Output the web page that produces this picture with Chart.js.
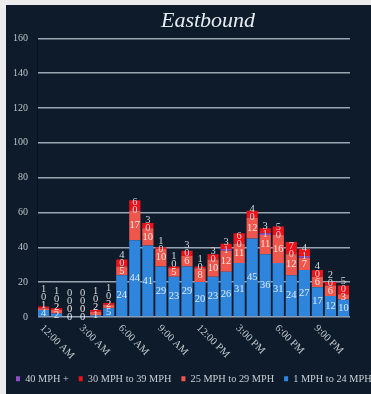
<!DOCTYPE html>
<html>
<head>
<meta charset="utf-8">
<script src="https://cdn.jsdelivr.net/npm/chart.js@4"></script>
<style>
  body { margin: 0; background: #ececec; overflow: hidden; }
  #panel { position: absolute; left: 6px; top: 5px; width: 404px; height: 389px; background: #0d1b2a; }
</style>
</head>
<body>
<div id="panel"><canvas id="chart" width="404" height="389"></canvas></div>
<script>
// hourly counts, eastbound
const hours = ['12:00 AM', '1:00 AM', '2:00 AM', '3:00 AM', '4:00 AM', '5:00 AM',
  '6:00 AM', '7:00 AM', '8:00 AM', '9:00 AM', '10:00 AM', '11:00 AM',
  '12:00 PM', '1:00 PM', '2:00 PM', '3:00 PM', '4:00 PM', '5:00 PM',
  '6:00 PM', '7:00 PM', '8:00 PM', '9:00 PM', '10:00 PM', '11:00 PM'];
const mph1to24  = [4, 2, 0, 0, 1, 5, 24, 44, 41, 29, 23, 29, 20, 23, 26, 31, 45, 36, 31, 24, 27, 17, 12, 10];
const mph25to29 = [1, 2, 0, 0, 2, 2, 5, 17, 10, 10, 5, 6, 8, 10, 12, 11, 12, 11, 16, 12, 7, 6, 6, 3];
const mph40plus = [0, 0, 0, 0, 0, 0, 0, 0, 0, 0, 0, 0, 0, 0, 1, 0, 0, 1, 0, 0, 1, 0, 0, 0];
const mph30to39 = [1, 1, 0, 0, 1, 1, 4, 6, 3, 1, 1, 3, 1, 3, 3, 6, 4, 3, 5, 7, 4, 4, 2, 5];
const yTicks = { min: 0, max: 160, step: 20 };
const tickEvery = 3;

const FONT = '"Liberation Serif", "DejaVu Serif", serif';

// value labels in each segment, nudged up so they don't sit on top of each other
const segLabels = {
  id: 'segLabels',
  afterDatasetsDraw(chart) {
    const ctx = chart.ctx;
    ctx.save();
    ctx.font = '10.5px ' + FONT;
    ctx.textAlign = 'center';
    ctx.textBaseline = 'middle';
    for (let i = 0; i < hours.length; i++) {
      let prev = Infinity;
      chart.data.datasets.forEach((ds, d) => {
        const bar = chart.getDatasetMeta(d).data[i];
        let y = Math.min((bar.y + bar.base) / 2, prev - 8);
        prev = y;
        ctx.fillStyle = ds.labelColor;
        ctx.fillText(String(ds.data[i]), bar.x, y);
      });
    }
    ctx.restore();
  }
};

// slanted hour labels (going down to the right)
const slantTicks = {
  id: 'slantTicks',
  afterDraw(chart) {
    const xs = chart.scales.x;
    const ctx = chart.ctx;
    ctx.save();
    ctx.font = '10.5px ' + FONT;
    ctx.fillStyle = '#c3c9cf';
    ctx.textAlign = 'left';
    ctx.textBaseline = 'top';
    hours.forEach((h, i) => {
      if (i % tickEvery) return;
      ctx.save();
      ctx.translate(xs.getPixelForValue(i) + 2, chart.chartArea.bottom + 6);
      ctx.rotate(Math.PI / 4);
      ctx.fillText(h, 0, 0);
      ctx.restore();
    });
    ctx.restore();
  }
};

const legendRank = [3, 2, 0, 1];

new Chart(document.getElementById('chart'), {
  type: 'bar',
  data: {
    labels: hours,
    datasets: [
      { label: '1 MPH to 24 MPH', data: mph1to24, backgroundColor: '#2f84dc', labelColor: '#dfe9f6' },
      { label: '25 MPH to 29 MPH', data: mph25to29, backgroundColor: '#f0564c', labelColor: '#fbe7e5' },
      { label: '40 MPH +', data: mph40plus, backgroundColor: '#8e4ec6', labelColor: '#d4d8dc' },
      { label: '30 MPH to 39 MPH', data: mph30to39, backgroundColor: '#ee1118', labelColor: '#d4d8dc' }
    ]
  },
  options: {
    responsive: false,
    devicePixelRatio: 1,
    animation: false,
    datasets: { bar: { categoryPercentage: 1, barPercentage: 0.86 } },
    plugins: {
      title: {
        display: true,
        text: 'Eastbound',
        color: '#e6ebf0',
        font: { family: FONT, size: 22, style: 'italic', weight: 'normal' },
        padding: { top: 3, bottom: 4 }
      },
      legend: {
        position: 'bottom',
        align: 'start',
        labels: {
          color: '#c8ced4',
          font: { family: FONT, size: 10.3 },
          boxWidth: 4,
          boxHeight: 5,
          padding: 10,
          sort: (a, b) => legendRank[a.datasetIndex] - legendRank[b.datasetIndex]
        }
      },
      tooltip: { enabled: false }
    },
    scales: {
      x: {
        stacked: true,
        grid: { display: false },
        border: { display: false },
        ticks: { display: false },
        afterFit(s) { s.height = 46.8; }
      },
      y: {
        stacked: true,
        min: yTicks.min,
        max: yTicks.max,
        ticks: { stepSize: yTicks.step, color: '#bcc3ca', padding: 9, font: { family: FONT, size: 10 } },
        grid: { color: 'rgba(190,200,212,0.8)', lineWidth: 1.5, drawTicks: false },
        border: { display: true, color: '#08121d' },
        afterFit(s) { s.width = 31; }
      },
      yRight: {
        type: 'linear',
        position: 'right',
        grid: { display: false },
        border: { display: false },
        ticks: { display: false },
        afterFit(s) { s.width = 60; }
      }
    }
  },
  plugins: [segLabels, slantTicks]
});
</script>
</body>
</html>
